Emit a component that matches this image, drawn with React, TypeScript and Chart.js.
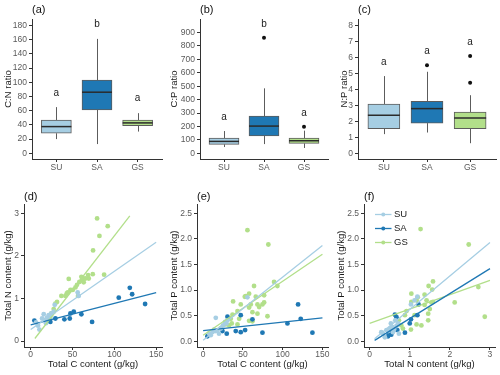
import React, { useEffect, useRef } from 'react';
import { Chart, registerables } from 'chart.js';
Chart.register(...registerables);

// ---------- data ----------
const groups = ['SU', 'SA', 'GS'];
const groupColors = ['#a6cee3', '#1f78b4', '#b2df8a'];

// box summaries: [min, q1, median, q3, max]
const cnBoxes = [[20, 28.2, 37.6, 46.6, 65], [13, 61.2, 86, 103, 161], [30.6, 39, 42.8, 46.6, 56.5]];
const cnOutX: number[] = [];
const cnOutY: number[] = [];
const cnLetters = ['a', 'b', 'a'];
const cnLetterY = [84, 181, 77];
const cnTicks = [0, 20, 40, 60, 80, 100, 120, 140, 160, 180];

const cpBoxes = [[47, 67, 89, 114, 166], [69, 129, 203, 278, 484], [40, 74, 94, 114, 169]];
const cpOutX = [2, 3];
const cpOutY = [860, 198];
const cpLetters = ['a', 'b', 'a'];
const cpLetterY = [268, 962, 298];
const cpTicks = [0, 100, 200, 300, 400, 500, 600, 700, 800, 900];

const npBoxes = [[1.2, 1.54, 2.38, 3.09, 4.84], [1.3, 1.89, 2.8, 3.26, 5.11], [0.63, 1.54, 2.21, 2.59, 3.64]];
const npOutX = [2, 3, 3];
const npOutY = [5.52, 6.1, 4.42];
const npLetters = ['a', 'a', 'a'];
const npLetterY = [5.68, 6.38, 6.95];
const npTicks = [0, 1, 2, 3, 4, 5, 6, 7, 8];

// (d) Total C vs Total N
const dSU_C = [6.4, 8.8, 10.4, 13.6, 15.6, 16.8, 19.5, 21.5, 24.7, 27.5, 28.7, 18.3, 23.5, 56.2, 57.4];
const dSU_N = [0.44, 0.36, 0.27, 0.53, 0.63, 0.49, 0.55, 0.61, 0.65, 0.69, 0.85, 0.42, 0.55, 1.14, 1.06];
const dSA_C = [4.4, 23.5, 29.5, 40.3, 46.7, 47.5, 51.5, 60.6, 73.4, 105.3, 118.5, 121.3, 136.8];
const dSA_N = [0.48, 0.45, 0.53, 0.51, 0.53, 0.65, 0.69, 0.63, 0.45, 1.02, 1.25, 1.10, 0.87];
const dGS_C = [79.4, 82.2, 92.1, 74.6, 87.8, 45.5, 36.7, 31.5, 43.1, 44.3, 47.5, 50.3, 53.5, 55.4, 58.2, 60.6, 62.6, 61.4, 68.6, 69.4, 74.2, 63.4, 65.4, 56.6, 41.5, 27.5, 29.5, 24.7, 20];
const dGS_N = [2.88, 2.47, 2.70, 2.13, 1.56, 1.46, 1.06, 0.92, 1.12, 1.14, 1.20, 1.20, 1.26, 1.32, 1.39, 1.51, 1.47, 1.43, 1.55, 1.47, 1.57, 1.38, 1.47, 1.06, 1.06, 0.75, 0.88, 0.65, 0.5];
const dFitSU_X = [0, 150]; const dFitSU_Y = [0.27, 2.32];
const dFitSA_X = [0, 150]; const dFitSA_Y = [0.38, 1.14];
const dFitGS_X = [5, 118.5]; const dFitGS_Y = [0.06, 2.94];

// (e) Total C vs Total P
const eSU_C = [7.5, 9.6, 11.7, 13.8, 15.9, 15.9, 18, 20, 22.2, 25, 27.6, 29.3, 30.6, 55.7];
const eSU_P = [0.15, 0.12, 0.18, 0.23, 0.46, 0.2, 0.22, 0.15, 0.25, 0.31, 0.38, 0.35, 0.41, 0.86];
const eSA_C = [5.4, 24.3, 29.7, 30.6, 41, 47.3, 47.3, 52.8, 62, 74.6, 106, 119.4, 122.7, 137.4];
const eSA_P = [0.10, 0.20, 0.15, 0.48, 0.20, 0.51, 0.18, 0.22, 0.43, 0.17, 0.35, 0.72, 0.44, 0.17];
const eGS_C = [55.7, 82, 89.2, 93.4, 64, 57.8, 53.6, 37.7, 47.3, 52.4, 59.9, 66.2, 68.3, 76.7, 74.6, 70.4, 76.7, 57.8, 62, 68.3, 80.9, 43.2, 45.3, 34.8, 32.7, 36, 43.2, 57.8, 62, 36.9, 28.5, 22.2];
const eGS_P = [2.17, 1.89, 1.16, 1.08, 1.08, 0.93, 0.88, 0.78, 0.72, 0.87, 0.72, 0.87, 0.72, 0.9, 0.72, 0.67, 0.76, 0.66, 0.57, 0.54, 0.49, 0.59, 0.44, 0.44, 0.31, 0.35, 0.33, 0.4, 0.39, 0.52, 0.33, 0.26];
const eFitSU_X = [0, 150]; const eFitSU_Y = [0.02, 1.87];
const eFitSA_X = [0, 150]; const eFitSA_Y = [0.21, 0.46];
const eFitGS_X = [0, 150]; const eFitGS_Y = [0.12, 1.70];

// (f) Total N vs Total P
const fSU_N = [0.29, 0.33, 0.38, 0.42, 0.46, 0.5, 0.53, 0.56, 0.58, 0.61, 0.64, 0.67, 0.71, 0.73, 1.03, 1.12, 1.19];
const fSU_P = [0.18, 0.15, 0.08, 0.22, 0.2, 0.25, 0.35, 0.28, 0.18, 0.23, 0.41, 0.30, 0.35, 0.15, 0.72, 0.8, 0.87];
const fSA_N = [0.46, 0.48, 0.54, 0.58, 0.63, 0.67, 0.69, 0.88, 1.0, 1.19, 1.22, 1.03];
const fSA_P = [0.10, 0.18, 0.13, 0.25, 0.52, 0.47, 0.22, 0.17, 0.35, 0.51, 0.72, 0.43];
const fGS_N = [1.27, 2.47, 2.71, 2.87, 2.12, 1.58, 1.47, 1.56, 1.2, 1.04, 1.04, 1.17, 1.37, 1.42, 1.54, 1.5, 1.58, 1.46, 1.46, 1.29, 1.17, 0.92, 0.88, 0.83, 1.03, 1.12, 0.79, 0.73, 1.37];
const fGS_P = [2.19, 1.89, 1.06, 0.48, 0.76, 1.17, 1.08, 1.01, 0.86, 0.93, 0.77, 0.8, 0.91, 0.8, 0.76, 0.63, 0.77, 0.54, 0.41, 0.31, 0.33, 0.59, 0.51, 0.25, 0.23, 0.51, 0.31, 0.41, 0.71];
const fFitSU_X = [0.125, 3]; const fFitSU_Y = [0.05, 1.93];
const fFitSA_X = [0.125, 3]; const fFitSA_Y = [0.02, 1.42];
const fFitGS_X = [0, 3]; const fFitGS_Y = [0.35, 1.19];

const cTicks = [0, 50, 100, 150];
const nTicks = [0, 1, 2, 3];
const pTicks = [0, 0.5, 1, 1.5, 2, 2.5];
const nYTicks = [0, 1, 2, 3];

// ---------- styling ----------
const FONT = '"Liberation Sans", Arial, Helvetica, sans-serif';
const TICK_COLOR = '#5a5a5a';
const AXIS_COLOR = '#333333';
const TEXT_COLOR = '#1a1a1a';

const zip = (xs: number[], ys: number[]) => xs.map((x, i) => ({ x, y: ys[i] }));

function axis(o: any) {
  return {
    type: 'linear',
    position: o.position,
    min: o.min,
    max: o.max,
    offset: false,
    afterBuildTicks: (s: any) => { s.ticks = o.ticks.map((v: number) => ({ value: v })); },
    afterFit: (s: any) => { if (o.position === 'left') s.width = o.size; else s.height = o.size; },
    ticks: {
      color: TICK_COLOR, font: { family: FONT, size: 8.5 }, padding: o.tickPad,
      autoSkip: false, maxRotation: 0, minRotation: 0, callback: (v: any) => o.fmt(v),
    },
    grid: { display: true, offset: false, drawOnChartArea: false, drawTicks: true, tickLength: 3, color: AXIS_COLOR, lineWidth: 1 },
    border: { display: true, color: AXIS_COLOR, width: 1 },
    title: o.title
      ? { display: true, text: o.title, color: TEXT_COLOR, font: { family: FONT, size: 9.5 }, padding: { top: o.titlePad, bottom: o.titlePad } }
      : { display: false },
  };
}

function drawTitle(chart: any, label: string, dy: number) {
  const { ctx, chartArea } = chart;
  ctx.save();
  ctx.fillStyle = '#111';
  ctx.font = `11px ${FONT}`;
  ctx.textAlign = 'left';
  ctx.textBaseline = 'middle';
  ctx.fillText(label, chartArea.left, chartArea.top - dy);
  ctx.restore();
}

function boxConfig(p: any) {
  const plugin = {
    id: 'boxDecor',
    beforeDatasetsDraw(chart: any) {
      const { ctx, scales: { x, y } } = chart;
      ctx.save();
      ctx.strokeStyle = '#5c5c5c';
      ctx.lineWidth = 1;
      p.boxes.forEach((b: number[], i: number) => {
        const px = Math.round(x.getPixelForValue(i + 1)) + 0.5;
        ctx.beginPath();
        ctx.moveTo(px, y.getPixelForValue(b[0]));
        ctx.lineTo(px, y.getPixelForValue(b[1]));
        ctx.moveTo(px, y.getPixelForValue(b[3]));
        ctx.lineTo(px, y.getPixelForValue(b[4]));
        ctx.stroke();
      });
      ctx.restore();
    },
    afterDatasetsDraw(chart: any) {
      const { ctx, scales: { x, y } } = chart;
      const meta = chart.getDatasetMeta(0);
      ctx.save();
      ctx.strokeStyle = '#2b2b2b';
      ctx.lineWidth = 1.5;
      p.boxes.forEach((b: number[], i: number) => {
        const el: any = meta.data[i];
        const { x: cx, width } = el.getProps(['x', 'width'], true);
        const py = y.getPixelForValue(b[2]);
        ctx.beginPath();
        ctx.moveTo(cx - width / 2, py);
        ctx.lineTo(cx + width / 2, py);
        ctx.stroke();
      });
      ctx.fillStyle = '#222';
      ctx.font = `10px ${FONT}`;
      ctx.textAlign = 'center';
      ctx.textBaseline = 'middle';
      p.letters.forEach((l: string, i: number) => {
        ctx.fillText(l, x.getPixelForValue(i + 1), y.getPixelForValue(p.letterY[i]));
      });
      ctx.restore();
    },
    afterDraw(chart: any) { drawTitle(chart, p.label, 9); },
  };
  return {
    type: 'scatter',
    data: {
      datasets: [
        {
          type: 'bar',
          data: p.boxes.map((b: number[], i: number) => ({ x: i + 1, y: [b[1], b[3]] })),
          backgroundColor: groupColors,
          borderColor: '#5c5c5c',
          borderWidth: 1,
          borderSkipped: false,
          barThickness: p.barW,
        },
        {
          type: 'scatter',
          data: zip(p.outX, p.outY),
          backgroundColor: '#111',
          borderWidth: 0,
          pointRadius: 2,
        },
      ],
    },
    options: {
      animation: false,
      responsive: false,
      devicePixelRatio: 1,
      layout: { padding: { left: 0, top: 19, right: p.padR, bottom: 0 } },
      plugins: { legend: { display: false }, tooltip: { enabled: false } },
      scales: {
        x: axis({ position: 'bottom', min: 0.4, max: 3.6, ticks: [1, 2, 3], fmt: (v: number) => groups[Math.round(v) - 1], size: 21, tickPad: 1 }),
        y: axis({ position: 'left', min: p.yMin, max: p.yMax, ticks: p.yTicks, fmt: (v: number) => String(v), size: p.yW, tickPad: 2, title: p.yTitle, titlePad: p.titlePad }),
      },
    },
    plugins: [plugin],
  };
}

function scatterConfig(p: any) {
  const lineDs = p.fits.map((f: any, i: number) => ({
    type: 'line', data: zip(f[0], f[1]), borderColor: groupColors[i], borderWidth: 1.3,
    pointRadius: 0, fill: false, tension: 0,
  }));
  const ptDs = p.pts.map((pt: any, i: number) => ({
    type: 'scatter', data: zip(pt[0], pt[1]), backgroundColor: groupColors[i], borderWidth: 0, pointRadius: 2.4,
  }));
  const plugin = {
    id: 'scDecor',
    afterDraw(chart: any) {
      drawTitle(chart, p.label, 7.5);
      if (p.legend) {
        const { ctx, chartArea } = chart;
        ctx.save();
        groups.forEach((g, i) => {
          const yy = chartArea.top + 10.5 + i * 14;
          const x0 = chartArea.left + 11;
          const x1 = chartArea.left + 27.5;
          ctx.strokeStyle = groupColors[i];
          ctx.lineWidth = 1.3;
          ctx.beginPath();
          ctx.moveTo(x0, yy);
          ctx.lineTo(x1, yy);
          ctx.stroke();
          ctx.fillStyle = groupColors[i];
          ctx.beginPath();
          ctx.arc((x0 + x1) / 2, yy, 2, 0, Math.PI * 2);
          ctx.fill();
          ctx.fillStyle = '#222';
          ctx.font = `9.5px ${FONT}`;
          ctx.textAlign = 'left';
          ctx.textBaseline = 'middle';
          ctx.fillText(g, x1 + 2.5, yy);
        });
        ctx.restore();
      }
    },
  };
  return {
    type: 'scatter',
    data: { datasets: [...lineDs, ...ptDs] },
    options: {
      animation: false,
      responsive: false,
      devicePixelRatio: 1,
      layout: { padding: { left: 0, top: 24, right: p.padR, bottom: 0 } },
      plugins: { legend: { display: false }, tooltip: { enabled: false } },
      scales: {
        x: axis({ position: 'bottom', min: p.xMin, max: p.xMax, ticks: p.xTicks, fmt: (v: number) => String(v), size: 28, tickPad: 0, title: p.xTitle, titlePad: 5.3 }),
        y: axis({ position: 'left', min: p.yMin, max: p.yMax, ticks: p.yTicks, fmt: p.yFmt, size: p.yW, tickPad: 2, title: p.yTitle, titlePad: p.titlePad }),
      },
    },
    plugins: [plugin],
  };
}

const panels = [
  { left: 0, top: 0, w: 166, h: 180, cfg: () => boxConfig({ boxes: cnBoxes, outX: cnOutX, outY: cnOutY, letters: cnLetters, letterY: cnLetterY, yMin: -8, yMax: 189, yTicks: cnTicks, yTitle: 'C:N ratio', yW: 32, padR: 4, titlePad: 2.6, barW: 30, label: '(a)' }) },
  { left: 166, top: 0, w: 166, h: 180, cfg: () => boxConfig({ boxes: cpBoxes, outX: cpOutX, outY: cpOutY, letters: cpLetters, letterY: cpLetterY, yMin: -42, yMax: 1000, yTicks: cpTicks, yTitle: 'C:P ratio', yW: 34, padR: 4, titlePad: 2.6, barW: 30, label: '(b)' }) },
  { left: 332, top: 0, w: 168, h: 180, cfg: () => boxConfig({ boxes: npBoxes, outX: npOutX, outY: npOutY, letters: npLetters, letterY: npLetterY, yMin: -0.36, yMax: 8.42, yTicks: npTicks, yTitle: 'N:P ratio', yW: 26, padR: 4, titlePad: 6.3, barW: 32, label: '(c)' }) },
  { left: 0, top: 180, w: 166, h: 195, cfg: () => scatterConfig({ pts: [[dSU_C, dSU_N], [dSA_C, dSA_N], [dGS_C, dGS_N]], fits: [[dFitSU_X, dFitSU_Y], [dFitSA_X, dFitSA_Y], [dFitGS_X, dFitGS_Y]], xMin: -8, xMax: 157, xTicks: cTicks, yMin: -0.14, yMax: 3.22, yTicks: nYTicks, yFmt: (v: number) => String(v), xTitle: 'Total C content (g/kg)', yTitle: 'Total N content (g/kg)', yW: 24, padR: 4, titlePad: 2.6, label: '(d)' }) },
  { left: 166, top: 180, w: 166, h: 195, cfg: () => scatterConfig({ pts: [[eSU_C, eSU_P], [eSA_C, eSA_P], [eGS_C, eGS_P]], fits: [[eFitSU_X, eFitSU_Y], [eFitSA_X, eFitSA_Y], [eFitGS_X, eFitGS_Y]], xMin: -7.7, xMax: 157, xTicks: cTicks, yMin: -0.11, yMax: 2.68, yTicks: pTicks, yFmt: (v: number) => v.toFixed(1), xTitle: 'Total C content (g/kg)', yTitle: 'Total P content (g/kg)', yW: 31, padR: 4, titlePad: 2.6, label: '(e)' }) },
  { left: 332, top: 180, w: 168, h: 195, cfg: () => scatterConfig({ pts: [[fSU_N, fSU_P], [fSA_N, fSA_P], [fGS_N, fGS_P]], fits: [[fFitSU_X, fFitSU_Y], [fFitSA_X, fFitSA_Y], [fFitGS_X, fFitGS_Y]], xMin: -0.14, xMax: 3.125, xTicks: nTicks, yMin: -0.11, yMax: 2.68, yTicks: pTicks, yFmt: (v: number) => v.toFixed(1), xTitle: 'Total N content (g/kg)', yTitle: 'Total P content (g/kg)', yW: 32, padR: 5, titlePad: 4, label: '(f)', legend: true }) },
];

function Panel({ spec }: { spec: any }) {
  const ref = useRef<HTMLCanvasElement>(null);
  useEffect(() => {
    if (!ref.current) return;
    const chart = new Chart(ref.current, spec.cfg() as any);
    return () => chart.destroy();
  }, [spec]);
  return (
    <canvas
      ref={ref}
      width={spec.w}
      height={spec.h}
      style={{ position: 'absolute', left: spec.left, top: spec.top, width: spec.w, height: spec.h }}
    />
  );
}

export default function App() {
  return (
    <div style={{ position: 'absolute', left: 0, top: 0, width: 500, height: 375, background: '#ffffff', overflow: 'hidden' }}>
      {panels.map((p, i) => <Panel key={i} spec={p} />)}
    </div>
  );
}
